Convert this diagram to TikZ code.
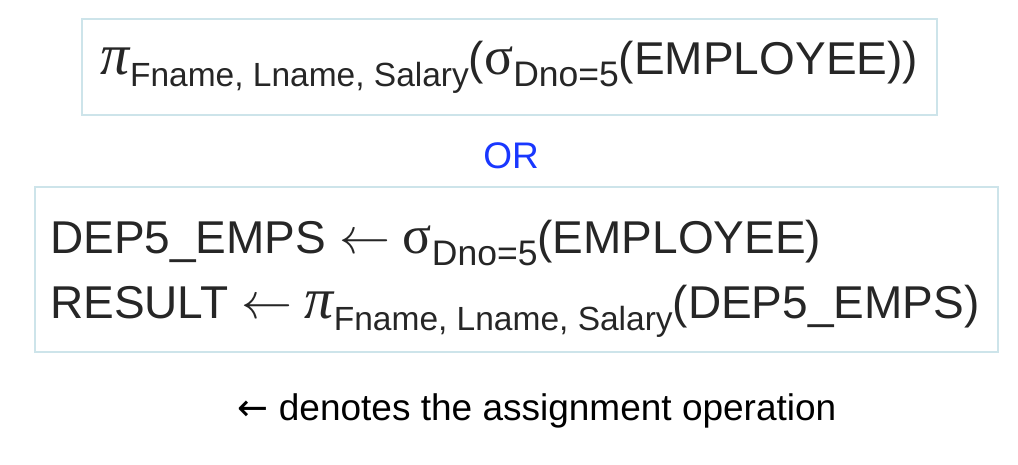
\documentclass[tikz,border=0pt]{standalone}
\usepackage{fontspec}
\setmainfont{Liberation Sans}
\newfontfamily\grkfont{Liberation Serif}
\newfontfamily\arrowfont{DejaVu Sans}
\usetikzlibrary{positioning}
\definecolor{boxline}{RGB}{205,228,234}
\definecolor{orblue}{RGB}{25,55,255}
% projection, selection, attribute subscript, assignment arrow
\newcommand{\proj}{{\grkfont\itshape\fontsize{58}{58}\selectfont π}}
\newcommand{\sel}{{\grkfont\fontsize{54}{54}\selectfont σ}}
\newcommand{\attr}[2][33.5]{\raisebox{-12pt}{\fontsize{#1}{#1}\selectfont #2}}
\newcommand{\assign}{\resizebox{51pt}{!}{$\leftarrow$}}

\begin{document}
\begin{tikzpicture}[
       x=1pt, y=-1pt,
       query/.style={rectangle, draw=boxline, line width=1.2pt, fill=white, inner sep=0pt},
       formula/.style={inner sep=0pt, text=black!85, font=\fontsize{46}{46}\selectfont},
       keyword/.style={text=orblue, font=\fontsize{37}{37}\selectfont, inner sep=0pt},
       note/.style={text=black, font=\fontsize{37}{37}\selectfont, inner sep=0pt}
   ]
   \useasboundingbox (0,0) rectangle (1018,464);
   \node[query, formula, minimum width=855pt, minimum height=96pt] (single) at (509.5,67)
      {\proj\attr{Fname, Lname, Salary}(\sel\attr[35.5]{Dno=5}(EMPLOYEE))};
   \node[keyword] (or) at (511,156) {OR};
   \node[query, minimum width=963pt, minimum height=165pt] (steps) at (516.5,269.5) {};
   \node[formula, anchor=base west] (step1) at (50,253)
      {DEP5\_EMPS \assign{} \sel\attr[35.5]{Dno=5}(EMPLOYEE)};
   \node[formula, anchor=base west] (step2) at (50,318)
      {RESULT \assign{} \proj\attr{Fname, Lname, Salary}(DEP5\_EMPS)};
   \node[note] (legend) at (537,411) {{\arrowfont ←} denotes the assignment operation};
   \end{tikzpicture}
\end{document}
